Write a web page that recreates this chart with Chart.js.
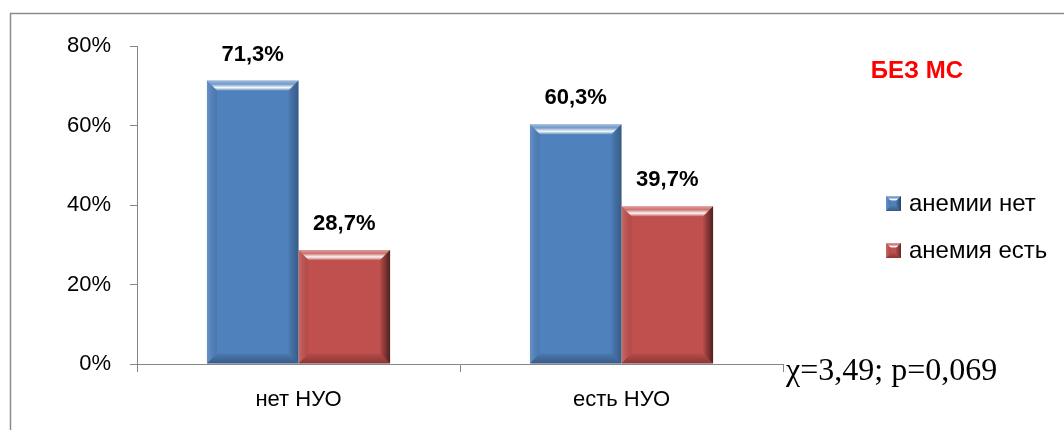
<!DOCTYPE html>
<html>
<head>
<meta charset="utf-8">
<script src="https://cdn.jsdelivr.net/npm/chart.js@4.4.1/dist/chart.umd.min.js"></script>
<style>
  body { margin: 0; background: #fff; }
  #wrap { width: 1064px; height: 430px; }
</style>
</head>
<body>
<div id="wrap"><canvas id="grafico" width="1064" height="430"></canvas></div>
<script>
// dati
const categorie = ['нет НУО', 'есть НУО'];
const nomiSerie = ['анемии нет', 'анемия есть'];
const anemiaNet = [71.3, 60.3];
const anemiaEst = [28.7, 39.7];
const yTicks = [0, 20, 40, 60, 80];
const titolo = 'БЕЗ МС';
const statistica = 'χ=3,49; p=0,069';

const BLU = '#4F81BD';
const ROSSO = '#C0504D';
const FONT = '"Liberation Sans", Arial, sans-serif';

function poligono(ctx, punti, fill) {
    ctx.beginPath();
    ctx.moveTo(punti[0][0], punti[0][1]);
    for (let i = 1; i < punti.length; i++) ctx.lineTo(punti[i][0], punti[i][1]);
    ctx.closePath();
    ctx.fillStyle = fill;
    ctx.fill();
}

// effetto "bevel" come in Excel
function bevel(ctx, l, t, r, b, s, scuro) {
    let g = ctx.createLinearGradient(0, t, 0, t + s);
    g.addColorStop(0, 'rgba(255,255,255,0.45)');
    g.addColorStop(0.35, 'rgba(255,255,255,0.2)');
    g.addColorStop(0.7, 'rgba(255,255,255,0.95)');
    g.addColorStop(1, 'rgba(255,255,255,0.15)');
    poligono(ctx, [[l, t], [r, t], [r - s, t + s], [l + s, t + s]], g);

    g = ctx.createLinearGradient(l, 0, l + s, 0);
    g.addColorStop(0, 'rgba(255,255,255,0.15)');
    g.addColorStop(1, 'rgba(0,0,0,0.06)');
    poligono(ctx, [[l, t], [l + s, t + s], [l + s, b - s], [l, b]], g);

    g = ctx.createLinearGradient(r - s, 0, r, 0);
    g.addColorStop(0, 'rgba(0,0,0,0.05)');
    g.addColorStop(1, 'rgba(0,0,0,' + scuro + ')');
    poligono(ctx, [[r, t], [r - s, t + s], [r - s, b - s], [r, b]], g);

    g = ctx.createLinearGradient(0, b - s, 0, b);
    g.addColorStop(0, 'rgba(0,0,0,0.05)');
    g.addColorStop(1, 'rgba(0,0,0,0.3)');
    poligono(ctx, [[l, b], [l + s, b - s], [r - s, b - s], [r, b]], g);
}

const pluginDecorazioni = {
    id: 'decorazioni',
    beforeDraw(chart) {
        const ctx = chart.ctx;
        ctx.save();
        ctx.strokeStyle = '#8c8c8c';
        ctx.lineWidth = 1.5;
        ctx.strokeRect(10.5, 13.5, 1100, 500);
        ctx.restore();
    },
    afterDatasetsDraw(chart) {
        const ctx = chart.ctx;
        ctx.save();
        chart.data.datasets.forEach((ds, i) => {
            const meta = chart.getDatasetMeta(i);
            meta.data.forEach((bar, j) => {
                const l = bar.x - bar.width / 2;
                const r = bar.x + bar.width / 2;
                bevel(ctx, l, bar.y, r, bar.base, 10, i === 0 ? 0.3 : 0.6);
                // etichetta del valore
                ctx.fillStyle = '#000';
                ctx.font = 'bold 22px ' + FONT;
                ctx.textAlign = 'center';
                ctx.textBaseline = 'middle';
                ctx.fillText(ds.data[j].toFixed(1).replace('.', ',') + '%', bar.x, bar.y - 26);
            });
        });

        // legenda a destra
        chart.data.datasets.forEach((ds, i) => {
            const y = 196 + i * 47;
            ctx.fillStyle = ds.backgroundColor;
            ctx.fillRect(886, y, 15, 15);
            bevel(ctx, 886, y, 901, y + 15, 5, 0.5);
            ctx.fillStyle = '#000';
            ctx.font = '24px ' + FONT;
            ctx.textAlign = 'left';
            ctx.textBaseline = 'middle';
            ctx.fillText(ds.label, 909, y + 8);
        });

        ctx.fillStyle = '#ff0000';
        ctx.font = 'bold 24px ' + FONT;
        ctx.textAlign = 'center';
        ctx.fillText(titolo, 917, 71);

        ctx.fillStyle = '#000';
        ctx.font = '32px "Liberation Serif", "Times New Roman", serif';
        ctx.textAlign = 'left';
        ctx.textBaseline = 'alphabetic';
        ctx.fillText(statistica, 786, 380);
        ctx.restore();
    }
};

const grafico = new Chart(document.getElementById('grafico'), {
    type: 'bar',
    data: {
        labels: categorie,
        datasets: [
            { label: nomiSerie[0], data: anemiaNet, backgroundColor: BLU },
            { label: nomiSerie[1], data: anemiaEst, backgroundColor: ROSSO }
        ]
    },
    options: {
        responsive: false,
        animation: false,
        categoryPercentage: 0.567,
        barPercentage: 1.0,
        layout: { padding: { left: 0, right: 281, top: 46, bottom: 0 } },
        plugins: {
            legend: { display: false },
            tooltip: { enabled: false }
        },
        scales: {
            x: {
                grid: { drawOnChartArea: false, tickLength: 8, color: '#868686', offset: true },
                border: { color: '#868686', width: 1 },
                ticks: { color: '#000', font: { family: FONT, size: 22 }, padding: 15 },
                afterFit: s => { s.height = 66; }
            },
            y: {
                min: 0,
                max: 80,
                afterBuildTicks: s => { s.ticks = yTicks.map(v => ({ value: v })); },
                grid: { drawOnChartArea: false, tickLength: 7, color: '#868686' },
                border: { color: '#868686', width: 1 },
                ticks: { color: '#000', font: { family: FONT, size: 22 }, padding: 19, callback: v => v + '%' },
                afterFit: s => { s.width = 137; }
            }
        }
    },
    plugins: [pluginDecorazioni]
});
</script>
</body>
</html>
